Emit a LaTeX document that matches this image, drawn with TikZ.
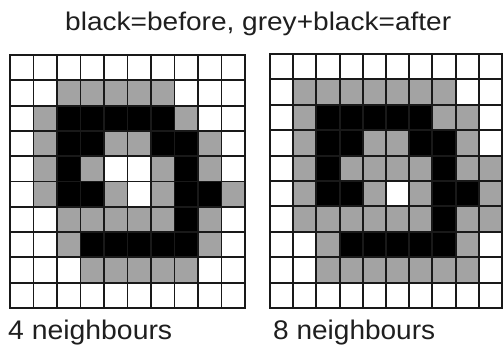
\documentclass[tikz,border=0pt]{standalone}
\usepackage{fontspec}
\setmainfont{Liberation Sans}
\begin{document}
\begin{tikzpicture}[x=1pt,y=-1pt,
  blk/.style={fill=black},
  gry/.style={fill=black!36},
  gridline/.style={line width=1.9pt, draw=black!90, line cap=rect},
  lbl/.style={anchor=base west, inner sep=0pt, text=black!88}]
\useasboundingbox[fill=white] (0,0) rectangle (503,345);
% left grid: 4 neighbours
\begin{scope}[shift={(10,55)}, x=23.5pt, y=-25.3pt]
  \foreach \c/\r in {2/1,3/1,4/1,5/1,6/1, 1/2,7/2, 1/3,4/3,5/3,8/3, 1/4,3/4,6/4,8/4,
                     1/5,4/5,6/5,9/5, 2/6,3/6,4/6,5/6,6/6,8/6, 2/7,8/7, 3/8,4/8,5/8,6/8,7/8}
    \fill[gry] (\c,\r) rectangle ++(1,1);
  \foreach \c/\r in {2/2,3/2,4/2,5/2,6/2, 2/3,3/3,6/3,7/3, 2/4,7/4, 2/5,3/5,7/5,8/5, 7/6,
                     3/7,4/7,5/7,6/7,7/7}
    \fill[blk] (\c,\r) rectangle ++(1,1);
  \foreach \i in {0,...,10} {
    \draw[gridline] (\i,0) -- (\i,10);
    \draw[gridline] (0,\i) -- (10,\i);
  }
\end{scope}
% right grid: 8 neighbours
\begin{scope}[shift={(270,54)}, x=23.2pt, y=-25.4pt]
  \foreach \c/\r in {1/1,2/1,3/1,4/1,5/1,6/1,7/1, 1/2,7/2,8/2, 1/3,4/3,5/3,8/3,
                     1/4,3/4,4/4,5/4,6/4,8/4,9/4, 1/5,4/5,6/5,9/5,
                     1/6,2/6,3/6,4/6,5/6,6/6,8/6,9/6, 2/7,8/7,
                     2/8,3/8,4/8,5/8,6/8,7/8,8/8}
    \fill[gry] (\c,\r) rectangle ++(1,1);
  \foreach \c/\r in {2/2,3/2,4/2,5/2,6/2, 2/3,3/3,6/3,7/3, 2/4,7/4, 2/5,3/5,7/5,8/5, 7/6,
                     3/7,4/7,5/7,6/7,7/7}
    \fill[blk] (\c,\r) rectangle ++(1,1);
  \foreach \i in {0,...,10} {
    \draw[gridline] (\i,0) -- (\i,10);
    \draw[gridline] (0,\i) -- (10,\i);
  }
\end{scope}
\node[lbl] (title) at (65,30.5) {\resizebox{386pt}{18.5pt}{black=before, grey+black=after}};
\node[lbl] (four) at (8,339) {\resizebox{164pt}{19.5pt}{4 neighbours}};
\node[lbl] (eight) at (273,339) {\resizebox{162pt}{19.5pt}{8 neighbours}};
\end{tikzpicture}
\end{document}
